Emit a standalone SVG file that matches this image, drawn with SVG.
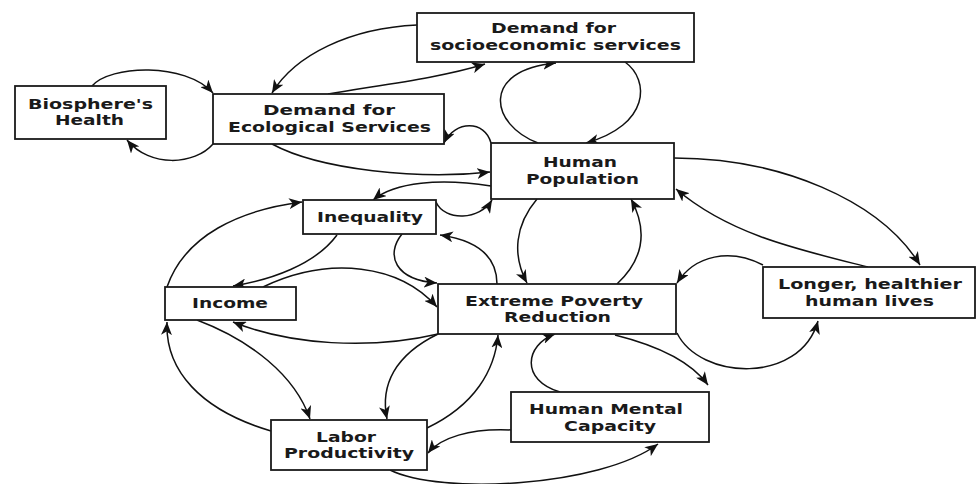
<svg xmlns="http://www.w3.org/2000/svg" width="978" height="484" viewBox="0 0 978 484">
<style>
.box{fill:#fff;stroke:#1a1a1a;stroke-width:1.8}
.lbl{font-family:"DejaVu Sans","Liberation Sans",sans-serif;font-weight:bold;font-size:14px;fill:#1a1a1a}
.e{fill:none;stroke:#111;stroke-width:1.5;marker-end:url(#ah)}
</style>
<defs>
<marker id="ah" markerUnits="userSpaceOnUse" markerWidth="13" markerHeight="11" viewBox="0 0 13 11" refX="13" refY="5.5" orient="auto">
<path d="M0,0 L13,5.5 L0,11 L3.5,5.5 z" fill="#111"/>
</marker>
</defs>
<rect width="978" height="484" fill="#fff"/>
<g id="connectors">
<path class="e" d="M92,86 C110,65 185,62 213,93"/>
<path class="e" d="M213,144 C195,165 150,168 127,140"/>
<path class="e" d="M417,25 C350,28 295,55 272,93"/>
<path class="e" d="M328,94 C380,85 440,78 485,64"/>
<path class="e" d="M538,143 C490,125 480,70 556,63"/>
<path class="e" d="M625,62 C650,80 650,125 586,143"/>
<path class="e" d="M272,144 C320,170 420,180 490,172"/>
<path class="e" d="M491,186 C440,178 395,182 373,200"/>
<path class="e" d="M491,143 C485,120 455,120 444,143"/>
<path class="e" d="M436,202 C445,222 480,220 492,200"/>
<path class="e" d="M537,199 C515,225 512,255 527,283"/>
<path class="e" d="M617,284 C648,255 645,225 631,199"/>
<path class="e" d="M674,158 C780,158 880,200 920,265"/>
<path class="e" d="M868,267 C800,250 730,235 676,189"/>
<path class="e" d="M763,265 C730,248 695,255 677,283"/>
<path class="e" d="M677,333 C700,380 800,385 818,321"/>
<path class="e" d="M615,335 C655,345 690,360 708,385"/>
<path class="e" d="M560,392 C520,380 525,345 555,334"/>
<path class="e" d="M511,430 C470,428 440,438 428,453"/>
<path class="e" d="M390,470 C440,495 600,487 658,444"/>
<path class="e" d="M427,428 C475,405 495,370 498,335"/>
<path class="e" d="M438,334 C395,355 380,385 387,419"/>
<path class="e" d="M197,320 C250,340 295,375 310,419"/>
<path class="e" d="M271,431 C200,410 165,370 167,322"/>
<path class="e" d="M167,287 C185,235 240,210 302,202"/>
<path class="e" d="M337,235 C315,265 270,280 233,286"/>
<path class="e" d="M263,287 C330,255 400,265 437,307"/>
<path class="e" d="M438,334 C370,350 290,345 233,322"/>
<path class="e" d="M402,234 C385,255 395,280 437,283"/>
<path class="e" d="M497,284 C497,255 475,240 440,235"/>
</g>
<g id="biosphere">
<rect class="box" x="15" y="86" width="151" height="53"/>
<text class="lbl" x="28" y="109" textLength="125" lengthAdjust="spacingAndGlyphs">Biosphere's</text>
<text class="lbl" x="55" y="125" textLength="69" lengthAdjust="spacingAndGlyphs">Health</text>
</g>
<g id="eco">
<rect class="box" x="213" y="94" width="231" height="50"/>
<text class="lbl" x="263" y="115" textLength="132" lengthAdjust="spacingAndGlyphs">Demand for</text>
<text class="lbl" x="228" y="132" textLength="203" lengthAdjust="spacingAndGlyphs">Ecological Services</text>
</g>
<g id="socio">
<rect class="box" x="417" y="13" width="277" height="49"/>
<text class="lbl" x="491" y="33" textLength="125" lengthAdjust="spacingAndGlyphs">Demand for</text>
<text class="lbl" x="430" y="50" textLength="251" lengthAdjust="spacingAndGlyphs">socioeconomic services</text>
</g>
<g id="population">
<rect class="box" x="491" y="143" width="183" height="56"/>
<text class="lbl" x="543" y="167" textLength="74" lengthAdjust="spacingAndGlyphs">Human</text>
<text class="lbl" x="526" y="184" textLength="113" lengthAdjust="spacingAndGlyphs">Population</text>
</g>
<g id="inequality">
<rect class="box" x="303" y="200" width="133" height="34"/>
<text class="lbl" x="317" y="222" textLength="106" lengthAdjust="spacingAndGlyphs">Inequality</text>
</g>
<g id="income">
<rect class="box" x="165" y="287" width="131" height="33"/>
<text class="lbl" x="192" y="308" textLength="76" lengthAdjust="spacingAndGlyphs">Income</text>
</g>
<g id="poverty">
<rect class="box" x="438" y="284" width="238" height="50"/>
<text class="lbl" x="465" y="306" textLength="178" lengthAdjust="spacingAndGlyphs">Extreme Poverty</text>
<text class="lbl" x="504" y="322" textLength="107" lengthAdjust="spacingAndGlyphs">Reduction</text>
</g>
<g id="labor">
<rect class="box" x="271" y="420" width="156" height="50"/>
<text class="lbl" x="316" y="442" textLength="60" lengthAdjust="spacingAndGlyphs">Labor</text>
<text class="lbl" x="284" y="458" textLength="130" lengthAdjust="spacingAndGlyphs">Productivity</text>
</g>
<g id="mental">
<rect class="box" x="511" y="392" width="198" height="50"/>
<text class="lbl" x="529" y="414" textLength="154" lengthAdjust="spacingAndGlyphs">Human Mental</text>
<text class="lbl" x="564" y="431" textLength="92" lengthAdjust="spacingAndGlyphs">Capacity</text>
</g>
<g id="longer">
<rect class="box" x="763" y="267" width="212" height="51"/>
<text class="lbl" x="778" y="289" textLength="184" lengthAdjust="spacingAndGlyphs">Longer, healthier</text>
<text class="lbl" x="805" y="306" textLength="129" lengthAdjust="spacingAndGlyphs">human lives</text>
</g>
</svg>
